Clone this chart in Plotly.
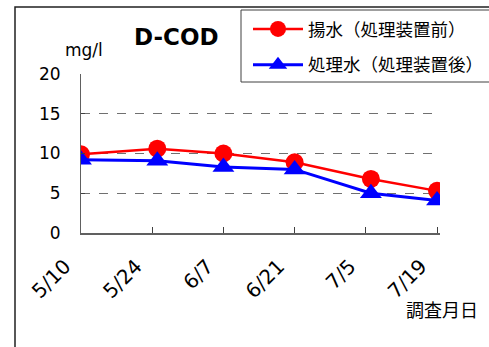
import plotly.graph_objects as go

dates = ["2005-05-10", "2005-05-25", "2005-06-07", "2005-06-21", "2005-07-06", "2005-07-19"]
raw_water = [9.9, 10.6, 10.0, 8.9, 6.8, 5.3]
treated_water = [9.2, 9.1, 8.3, 8.0, 5.0, 4.1]
tick_dates = ["2005-05-10", "2005-05-24", "2005-06-07", "2005-06-21", "2005-07-05", "2005-07-19"]
tick_labels = ["5/10", "5/24", "6/7", "6/21", "7/5", "7/19"]
y_ticks = [0, 5, 10, 15, 20]

W, H = 489, 347
L, R, T, B = 81, 49, 74, 114
pw, ph = W - L - R, H - T - B

def px(x):
    return (x - L) / pw

def py(y):
    return (H - B - y) / ph

num_font = "DejaVu Sans"
jp_font = "Noto Sans CJK JP"

fig = go.Figure()
fig.add_trace(go.Scatter(
    x=dates, y=raw_water, name="揚水（処理装置前）", mode="lines+markers",
    legendgroup="a",
    line=dict(color="#FF0000", width=2.5),
    marker=dict(symbol="circle", size=18, color="#FF0000"),
))
fig.add_trace(go.Scatter(
    x=dates, y=treated_water, name="処理水（処理装置後）", mode="lines+markers",
    legendgroup="b",
    line=dict(color="#0000FF", width=3),
    marker=dict(symbol="triangle-up", size=19, color="#0000FF"),
))

fig.update_layout(
    width=W, height=H,
    margin=dict(l=L, r=R, t=T, b=B, autoexpand=False),
    paper_bgcolor="white", plot_bgcolor="white",
    showlegend=True,
    legend=dict(
        x=px(248), y=py(11), xanchor="left", yanchor="top",
        bgcolor="rgba(0,0,0,0)", borderwidth=0,
        font=dict(family=jp_font, size=17.5, color="#000000"),
        itemwidth=50, tracegroupgap=10,
    ),
    xaxis=dict(
        type="date",
        range=["2005-05-10", "2005-07-19 14:00"],
        tickvals=tick_dates, ticktext=tick_labels,
        tickangle=-45,
        ticks="inside", ticklen=6, tickcolor="#404040",
        showline=True, linecolor="#606060", linewidth=1.5,
        showgrid=False, zeroline=False,
        ticklabelstandoff=12, ticklabelshift=-16,
        tickfont=dict(family=num_font, size=20, color="#000000"),
    ),
    yaxis=dict(
        range=[0, 20], tickvals=y_ticks,
        ticks="inside", ticklen=4, tickcolor="#404040",
        showline=True, linecolor="#606060", linewidth=1,
        showgrid=True, gridcolor="#707070", griddash="dash", gridwidth=1,
        zeroline=False,
        ticklabelstandoff=16,
        tickfont=dict(family=num_font, size=17, color="#000000"),
    ),
    annotations=[
        dict(text="<b>D-COD</b>", x=px(176), y=py(37), xref="paper", yref="paper",
             xanchor="center", yanchor="middle",
             showarrow=False, font=dict(family=num_font, size=23, color="#000000")),
        dict(text="mg/l", x=px(84), y=py(50), xref="paper", yref="paper",
             xanchor="center", yanchor="middle",
             showarrow=False, font=dict(family=num_font, size=17, color="#000000")),
        dict(text="調査月日", x=px(442), y=py(309), xref="paper", yref="paper",
             xanchor="center", yanchor="middle",
             showarrow=False, font=dict(family=jp_font, size=18, color="#000000")),
    ],
    shapes=[
        dict(type="rect", xref="paper", yref="paper",
             x0=px(15), x1=px(560), y0=py(7), y1=py(420),
             line=dict(color="#202020", width=1.5), layer="below"),
        dict(type="rect", xref="paper", yref="paper",
             x0=px(241), x1=px(520), y0=py(10), y1=py(82),
             fillcolor="white", line=dict(color="#404040", width=1), layer="below"),
    ],
)

fig.write_html("out.html", config={"displayModeBar": False},
               post_script="document.body.style.margin='0';document.body.style.padding='0';")
